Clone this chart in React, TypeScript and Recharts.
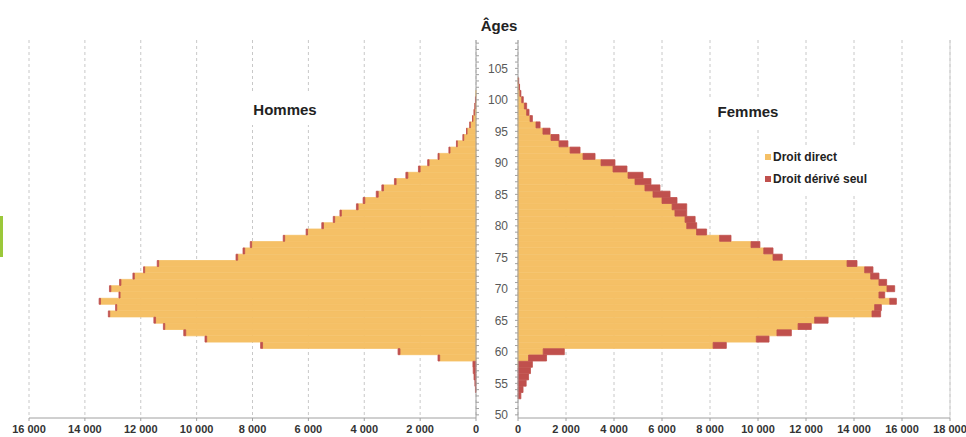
import React from "react";
import {
  BarChart,
  Bar,
  XAxis,
  YAxis,
  CartesianGrid,
  ReferenceLine,
} from "recharts";

// ages 50 -> 109
const ages = [
  50, 51, 52, 53, 54, 55, 56, 57, 58, 59, 60, 61, 62, 63, 64, 65, 66, 67, 68, 69,
  70, 71, 72, 73, 74, 75, 76, 77, 78, 79, 80, 81, 82, 83, 84, 85, 86, 87, 88, 89,
  90, 91, 92, 93, 94, 95, 96, 97, 98, 99, 100, 101, 102, 103, 104, 105, 106, 107, 108, 109,
];

const hommesDirect = [
  0, 0, 0, 0, 0, 0, 0, 0, 0, 1300, 2720, 7640, 9640, 10390, 11140, 11470, 13110, 12860, 13440, 12740,
  13070, 12710, 12230, 11860, 11360, 8530, 8280, 8030, 6850, 6030, 5460, 5060, 4820, 4220, 3980, 3500, 3310, 2860, 2440, 2000,
  1680, 1320, 930, 670, 440, 320, 205, 110, 60, 30, 15, 5, 0, 0, 0, 0, 0, 0, 0, 0,
];
const hommesDerive = [
  0, 0, 0, 0, 20, 40, 70, 100, 110, 60, 70, 70, 60, 70, 50, 60, 50, 40, 50, 40,
  50, 50, 50, 40, 50, 60, 60, 50, 50, 50, 60, 50, 50, 60, 60, 70, 60, 60, 70, 60,
  50, 40, 40, 30, 30, 20, 20, 15, 10, 10, 5, 0, 0, 0, 0, 0, 0, 0, 0, 0,
];

const femmesDirect = [
  0, 0, 0, 0, 0, 0, 0, 0, 20, 440, 1050, 8130, 9930, 10790, 11670, 12360, 14750, 14860, 15490, 15040,
  15375, 15040, 14695, 14445, 13710, 10625, 10240, 9710, 8400, 7440, 7030, 6960, 6540, 6420, 6000, 5625, 5290, 4875, 4585, 3960,
  3460, 2710, 2170, 1710, 1375, 1040, 750, 500, 360, 265, 155, 80, 40, 15, 0, 0, 0, 0, 0, 0,
];
const femmesDerive = [
  0, 0, 0, 120, 210, 340, 440, 520, 580, 750, 880, 550, 530, 600, 550, 560, 360, 280, 275, 240,
  320, 320, 345, 345, 415, 385, 385, 370, 475, 420, 415, 420, 490, 610, 625, 710, 625, 665, 625, 580,
  580, 500, 415, 370, 335, 295, 170, 100, 100, 95, 65, 40, 25, 15, 0, 0, 0, 0, 0, 0,
];

const ticksHommes = [0, 2000, 4000, 6000, 8000, 10000, 12000, 14000, 16000];
const ticksFemmes = [0, 2000, 4000, 6000, 8000, 10000, 12000, 14000, 16000, 18000];

const hommes = ages.map((age, i) => ({
  age,
  direct: hommesDirect[i],
  derive: hommesDerive[i],
}));
const femmes = ages.map((age, i) => ({
  age,
  direct: femmesDirect[i],
  derive: femmesDerive[i],
}));

const ORANGE = "#F5C066";
const RED = "#C0504D";
const FONT = "'Liberation Sans', Arial, sans-serif";

const fmt = (v: number) => String(v).replace(/\B(?=(\d{3})+(?!\d))/g, " ");

const xTick = { fontSize: 11, fontWeight: "bold", fill: "#333", fontFamily: FONT };
const yTick = { fontSize: 12, fill: "#595959", fontFamily: FONT };

export default function App() {
  return (
    <div
      style={{
        position: "absolute",
        left: 0,
        top: 0,
        width: 966,
        height: 437,
        overflow: "hidden",
        background: "#fff",
        fontFamily: FONT,
      }}
    >
      <div style={{ position: "absolute", left: 0, top: 0 }}>
        <BarChart
          width={483}
          height={437}
          data={hommes}
          layout="vertical"
          barCategoryGap={0}
          margin={{ top: 40, right: 0, bottom: 0, left: 29 }}
        >
          <CartesianGrid horizontal={false} stroke="#c8c8c8" strokeDasharray="3 3" />
          <XAxis
            type="number"
            domain={[0, 16000]}
            ticks={ticksHommes}
            reversed
            tickFormatter={fmt}
            tick={xTick}
            stroke="#a0a0a0"
            tickSize={3}
            tickMargin={4}
            height={19}
            interval={0}
          />
          <YAxis
            type="category"
            dataKey="age"
            orientation="right"
            reversed
            width={7}
            interval={0}
            tickSize={3}
            tickFormatter={() => ""}
            stroke="#a0a0a0"
          />
          <Bar dataKey="direct" stackId="h" fill={ORANGE} stroke={ORANGE} strokeWidth={0.8} isAnimationActive={false} />
          <Bar dataKey="derive" stackId="h" fill={RED} stroke={RED} strokeWidth={0.8} isAnimationActive={false} />
        </BarChart>
      </div>

      <div style={{ position: "absolute", left: 483, top: 0 }}>
        <BarChart
          width={483}
          height={437}
          data={femmes}
          layout="vertical"
          barCategoryGap={0}
          margin={{ top: 40, right: 16, bottom: 0, left: 0 }}
        >
          <CartesianGrid horizontal={false} stroke="#c8c8c8" strokeDasharray="3 3" />
          <ReferenceLine x={18000} stroke="#d0d0d0" />
          <XAxis
            type="number"
            domain={[0, 18000]}
            ticks={ticksFemmes}
            tickFormatter={fmt}
            tick={xTick}
            stroke="#a0a0a0"
            tickSize={3}
            tickMargin={4}
            height={19}
            interval={0}
          />
          <YAxis
            type="category"
            dataKey="age"
            reversed
            width={35}
            interval={0}
            tickSize={3}
            tickMargin={7}
            tick={yTick}
            tickFormatter={(v: number) => (v % 5 === 0 && v <= 105 ? String(v) : "")}
            stroke="#a0a0a0"
          />
          <Bar dataKey="direct" stackId="f" fill={ORANGE} stroke={ORANGE} strokeWidth={0.8} isAnimationActive={false} />
          <Bar dataKey="derive" stackId="f" fill={RED} stroke={RED} strokeWidth={0.8} isAnimationActive={false} />
        </BarChart>
      </div>

      {/* title and panel labels over the grid */}
      <div
        style={{
          position: "absolute",
          left: 470,
          width: 58,
          top: 17,
          textAlign: "center",
          fontWeight: "bold",
          fontSize: 15,
          color: "#222",
          background: "#fff",
        }}
      >
        Âges
      </div>
      <div
        style={{
          position: "absolute",
          left: 245,
          top: 94,
          width: 80,
          height: 31,
          lineHeight: "31px",
          textAlign: "center",
          fontWeight: "bold",
          fontSize: 15,
          color: "#222",
          background: "#fff",
        }}
      >
        Hommes
      </div>
      <div
        style={{
          position: "absolute",
          left: 708,
          top: 97,
          width: 80,
          height: 30,
          lineHeight: "30px",
          textAlign: "center",
          fontWeight: "bold",
          fontSize: 15,
          color: "#222",
          background: "#fff",
        }}
      >
        Femmes
      </div>
      <div
        style={{
          position: "absolute",
          left: 760,
          top: 145,
          width: 125,
          height: 48,
          background: "#fff",
          fontSize: 12,
          fontWeight: "bold",
          color: "#222",
        }}
      >
        {[
          { label: "Droit direct", color: ORANGE },
          { label: "Droit dérivé seul", color: RED },
        ].map((item, i) => (
          <div
            key={item.label}
            style={{
              position: "absolute",
              left: 5,
              top: 5 + i * 22,
              display: "flex",
              alignItems: "center",
              whiteSpace: "nowrap",
            }}
          >
            <span
              style={{
                display: "inline-block",
                width: 6,
                height: 6,
                background: item.color,
                marginRight: 2,
              }}
            />
            {item.label}
          </div>
        ))}
      </div>
      {/* bit of neighbouring content at the left edge of the capture */}
      <div style={{ position: "absolute", left: 0, top: 216, width: 3, height: 41, background: "#9BC83A" }} />
    </div>
  );
}
